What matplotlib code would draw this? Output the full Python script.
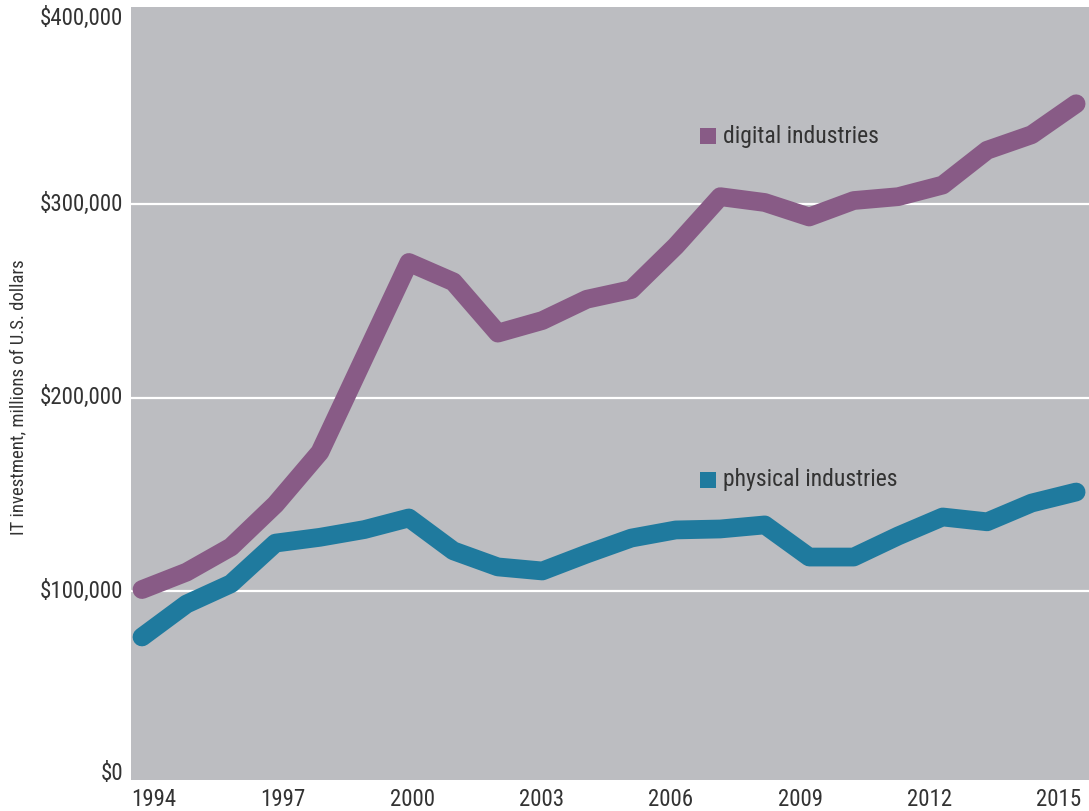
import matplotlib
matplotlib.use("Agg")
import matplotlib.pyplot as plt
from matplotlib.patches import Rectangle
import matplotlib.transforms as mtransforms

plt.rcParams['font.family'] = ['Roboto Condensed', 'Roboto', 'DejaVu Sans']
plt.rcParams['font.weight'] = 'normal'

years = list(range(1994, 2016))
digital = [101000, 110000, 123000, 145000, 172000, 221000, 270000, 260000, 233500, 240000,
           251000, 256000, 278500, 304000, 301000, 293500, 302000, 304000, 310000, 328000,
           336000, 352000]
physical = [76500, 93500, 104000, 125000, 128000, 132000, 138000, 121000, 112700, 110600,
            119400, 127600, 131800, 132300, 134400, 117800, 117800, 128700, 138500, 136000,
            145700, 151400]
xtick_years = [1994, 1997, 2000, 2003, 2006, 2009, 2012, 2015]
ytick_values = [0, 100000, 200000, 300000, 400000]
ytick_labels = ["$0", "$100,000", "$200,000", "$300,000", "$400,000"]
series_names = ["digital industries", "physical industries"]

c_dig = "#885b86"
c_phy = "#1f7a9e"
bg = "#bcbdc1"
txt = "#333333"
fs = 16.5

W, H = 1089, 811
fig = plt.figure(figsize=(W / 100, H / 100), dpi=100)
ax = fig.add_axes([131 / W, (H - 780) / H, 1 - 131 / W, (780 - 7) / H])
ax.set_facecolor(bg)
for s in ax.spines.values():
    s.set_visible(False)

ax.set_xlim(1993.753, 2015.29)
ax.set_ylim(2600, 402000)

for v in ytick_values[1:-1]:
    ax.axhline(v, color="white", lw=1.6, zorder=1)

ax.plot(years, digital, color=c_dig, lw=13.5, solid_capstyle="round", solid_joinstyle="round", zorder=3)
ax.plot(years, physical, color=c_phy, lw=13.5, solid_capstyle="round", solid_joinstyle="round", zorder=3)

# x tick labels (label spacing slightly tighter than data spacing in the original)
xt = [1994.27 + (y - 1994) * 0.9682 for y in xtick_years]
ax.set_xticks(xt)
ax.set_xticklabels([str(y) for y in xtick_years], fontsize=fs, color=txt)
ax.tick_params(axis="x", length=0, pad=6)
ax.set_yticks([])

# y labels
trans = ax.get_yaxis_transform()
off = mtransforms.ScaledTranslation(-8 / 100, 0, fig.dpi_scale_trans)
for v, lab in zip(ytick_values, ytick_labels):
    if v == ytick_values[0]:
        ax.text(0, 0, lab, transform=ax.transAxes + off, ha="right", va="baseline",
                fontsize=fs, color=txt)
    elif v == ytick_values[-1]:
        ax.text(0, 1, lab, transform=ax.transAxes + off, ha="right", va="top",
                fontsize=fs, color=txt)
    else:
        ax.text(0, v, lab, transform=trans + off, ha="right", va="center",
                fontsize=fs, color=txt)

fig.text(18 / W, 1 - 397 / H, "IT investment, millions of U.S. dollars", rotation=90,
         ha="center", va="center", fontsize=13.5, color=txt)

# legend-style labels
for name, col, ypix in [(series_names[0], c_dig, 136), (series_names[1], c_phy, 479.5)]:
    yf = (780 - ypix) / 773
    xf = (700 - 131) / 958
    sq = 16
    ax.add_patch(Rectangle((xf, yf - (sq / 2) / 773), sq / 958, sq / 773, transform=ax.transAxes,
                           facecolor=col, edgecolor="none", zorder=4))
    ax.text((723 - 131) / 958, yf, name, transform=ax.transAxes, ha="left", va="center",
            fontsize=17, color=txt, zorder=4)

fig.savefig("out.png", dpi=100)
